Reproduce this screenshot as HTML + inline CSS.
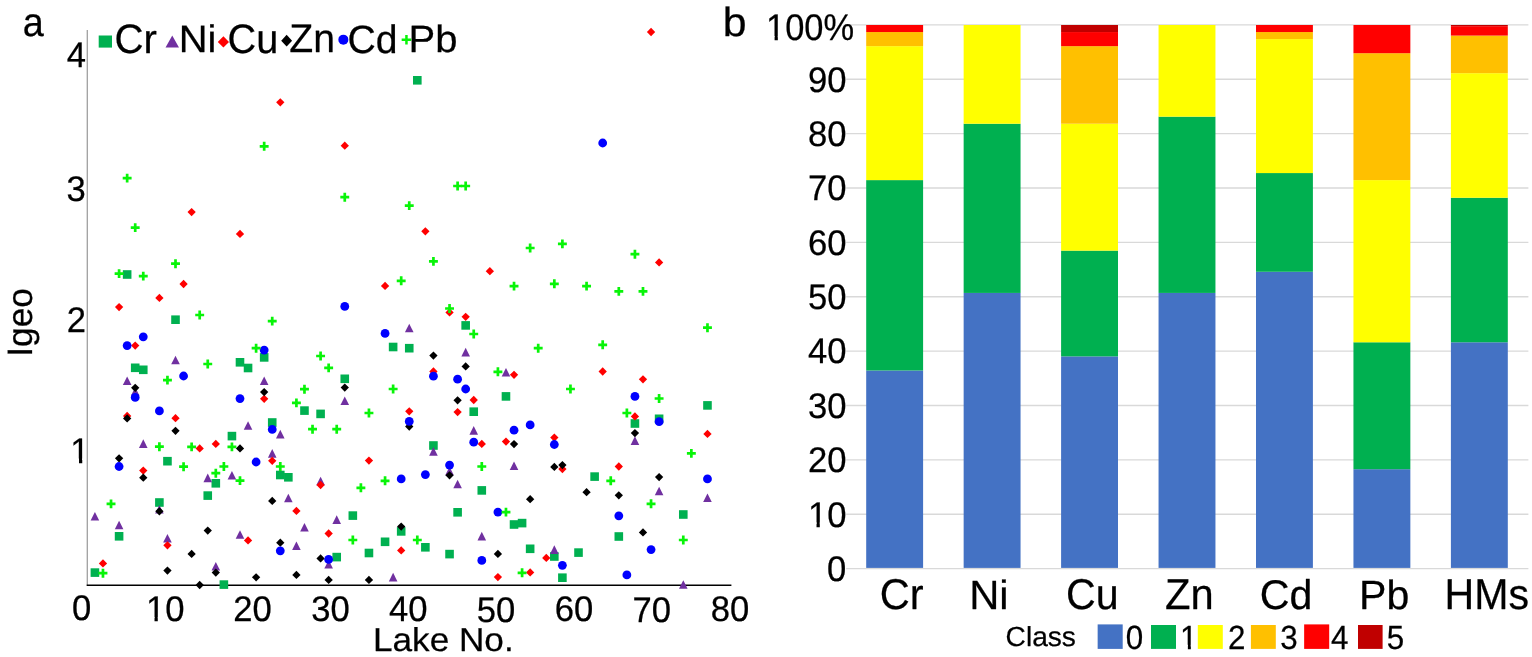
<!DOCTYPE html>
<html lang="en"><head><meta charset="utf-8"><title>Igeo of heavy metals in lakes</title>
<style>html,body{margin:0;padding:0;background:#fff}body{width:1532px;height:657px;overflow:hidden}svg{display:block}text{font-family:"Liberation Sans",Arial,Helvetica,sans-serif;fill:#000;stroke-linejoin:round;text-rendering:geometricPrecision}</style>
</head><body>
<svg width="1532" height="657" viewBox="0 0 1532 657">
<rect width="1532" height="657" fill="#fff"/>
<defs><clipPath id="one0"><path clip-rule="evenodd" d="M-50 -200H900V100H-50ZM-20 -4.27H8.86V40H-20ZM12.22 -4.27H19.92V40H12.22Z"/></clipPath><clipPath id="one1"><path clip-rule="evenodd" d="M-50 -200H900V100H-50ZM-20 -4.44H9.23V40H-20ZM12.72 -4.44H20.74V40H12.72Z"/></clipPath><clipPath id="one2"><path clip-rule="evenodd" d="M-50 -200H900V100H-50ZM-20 -4.03H8.36V40H-20ZM11.55 -4.03H18.82V40H11.55Z"/></clipPath></defs>
<g id="panel-a">
<text transform="translate(22.67 36.32) scale(0.9332 1)" font-size="40.46" stroke="#000" stroke-width="0.25">a</text>
<line x1="87.3" y1="30" x2="87.3" y2="585.8" stroke="#a0a0a0" stroke-width="1.3"/>
<line x1="86.7" y1="585.15" x2="731.4" y2="585.15" stroke="#000" stroke-width="1.45"/>
<text transform="translate(66.67 66.68) scale(0.9732 1)" font-size="35.57" stroke="#000" stroke-width="0.25">4</text>
<text transform="translate(66.39 200.73) scale(0.9732 1)" font-size="35.57" stroke="#000" stroke-width="0.25">3</text>
<text transform="translate(66.75 332.4) scale(0.9732 1)" font-size="35.57" stroke="#000" stroke-width="0.25">2</text>
<text transform="translate(70.36 462.73) scale(0.9732 1)" font-size="35.57" stroke="#000" stroke-width="0.25" clip-path="url(#one0)">1</text>
<text transform="translate(72.03 619.78) scale(0.9732 1)" font-size="35.57" stroke="#000" stroke-width="0.25">0</text>
<text transform="translate(145.89 621.33) scale(0.9732 1)" font-size="35.57" stroke="#000" stroke-width="0.25" clip-path="url(#one0)">10</text>
<text transform="translate(233.37 621.43) scale(0.9732 1)" font-size="35.57" stroke="#000" stroke-width="0.25">20</text>
<text transform="translate(311.34 621.43) scale(0.9732 1)" font-size="35.57" stroke="#000" stroke-width="0.25">30</text>
<text transform="translate(389 621.43) scale(0.9732 1)" font-size="35.57" stroke="#000" stroke-width="0.25">40</text>
<text transform="translate(476.7 621.58) scale(0.9732 1)" font-size="35.57" stroke="#000" stroke-width="0.25">50</text>
<text transform="translate(554.77 621.43) scale(0.9732 1)" font-size="35.57" stroke="#000" stroke-width="0.25">60</text>
<text transform="translate(632.53 621.53) scale(0.9732 1)" font-size="35.57" stroke="#000" stroke-width="0.25">70</text>
<text transform="translate(710.75 621.43) scale(0.9732 1)" font-size="35.57" stroke="#000" stroke-width="0.25">80</text>
<text transform="translate(31.81 356.68) rotate(-90)" font-size="35.25" stroke="#000" stroke-width="0.25">Igeo</text>
<text transform="translate(372.97 650.69) scale(1.0611 1)" font-size="33.13" stroke="#000" stroke-width="0.25">Lake No.</text>
<rect x="98.7" y="35.5" width="13.3" height="12.1" fill="#00B050"/>
<text transform="translate(114.56 52.51) scale(0.9803 1)" font-size="41.06" stroke="#000" stroke-width="0.25">Cr</text>
<path d="M172.25 35.5L179 47.5H165.5Z" fill="#7030A0"/>
<text transform="translate(178.78 52.32) scale(1.0434 1)" font-size="38.28" stroke="#000" stroke-width="0.25">Ni</text>
<path d="M223.4 36.3L229 41.9L223.4 47.5L217.8 41.9Z" fill="#FF0000"/>
<text transform="translate(227.49 52.51) scale(0.9668 1)" font-size="41.06" stroke="#000" stroke-width="0.25">Cu</text>
<path d="M286.65 34.8L292.1 40.7L286.65 46.6L281.2 40.7Z" fill="#000000"/>
<text transform="translate(289.3 52.32) scale(0.9784 1)" font-size="40.07" stroke="#000" stroke-width="0.25">Zn</text>
<circle cx="343.35" cy="39.65" r="5" fill="#0000FF"/>
<text transform="translate(347.52 52.53) scale(0.9914 1)" font-size="39.52" stroke="#000" stroke-width="0.25">Cd</text>
<path d="M401.65 39.8H411.25M406.45 35V44.6" stroke="#08F408" stroke-width="2.5" fill="none"/>
<text transform="translate(408.57 52.34) scale(1.0531 1)" font-size="38.03" stroke="#000" stroke-width="0.25">Pb</text>
<g id="s-cr"><rect x="90.61" y="568.3" width="8.6" height="8.6" fill="#00B050"/><rect x="114.79" y="532" width="8.6" height="8.6" fill="#00B050"/><rect x="122.85" y="270.2" width="8.6" height="8.6" fill="#00B050"/><rect x="130.91" y="363.5" width="8.6" height="8.6" fill="#00B050"/><rect x="138.97" y="365.5" width="8.6" height="8.6" fill="#00B050"/><rect x="155.09" y="498.2" width="8.6" height="8.6" fill="#00B050"/><rect x="163.15" y="456.9" width="8.6" height="8.6" fill="#00B050"/><rect x="171.21" y="315.4" width="8.6" height="8.6" fill="#00B050"/><rect x="203.45" y="491.3" width="8.6" height="8.6" fill="#00B050"/><rect x="211.51" y="479" width="8.6" height="8.6" fill="#00B050"/><rect x="219.57" y="580.3" width="8.6" height="8.6" fill="#00B050"/><rect x="227.63" y="431.8" width="8.6" height="8.6" fill="#00B050"/><rect x="235.69" y="358" width="8.6" height="8.6" fill="#00B050"/><rect x="243.75" y="363.7" width="8.6" height="8.6" fill="#00B050"/><rect x="259.87" y="353.1" width="8.6" height="8.6" fill="#00B050"/><rect x="267.93" y="418.2" width="8.6" height="8.6" fill="#00B050"/><rect x="275.99" y="470.7" width="8.6" height="8.6" fill="#00B050"/><rect x="284.05" y="473" width="8.6" height="8.6" fill="#00B050"/><rect x="300.17" y="406.3" width="8.6" height="8.6" fill="#00B050"/><rect x="316.29" y="409.6" width="8.6" height="8.6" fill="#00B050"/><rect x="332.41" y="552.8" width="8.6" height="8.6" fill="#00B050"/><rect x="340.47" y="374.5" width="8.6" height="8.6" fill="#00B050"/><rect x="348.53" y="511.3" width="8.6" height="8.6" fill="#00B050"/><rect x="364.65" y="548.7" width="8.6" height="8.6" fill="#00B050"/><rect x="380.77" y="537.5" width="8.6" height="8.6" fill="#00B050"/><rect x="388.83" y="342.7" width="8.6" height="8.6" fill="#00B050"/><rect x="396.89" y="527.1" width="8.6" height="8.6" fill="#00B050"/><rect x="404.95" y="343.9" width="8.6" height="8.6" fill="#00B050"/><rect x="413.01" y="76" width="8.6" height="8.6" fill="#00B050"/><rect x="421.07" y="543" width="8.6" height="8.6" fill="#00B050"/><rect x="429.13" y="441.2" width="8.6" height="8.6" fill="#00B050"/><rect x="445.25" y="549.8" width="8.6" height="8.6" fill="#00B050"/><rect x="453.31" y="508" width="8.6" height="8.6" fill="#00B050"/><rect x="461.37" y="321.1" width="8.6" height="8.6" fill="#00B050"/><rect x="469.43" y="407.4" width="8.6" height="8.6" fill="#00B050"/><rect x="477.49" y="486.1" width="8.6" height="8.6" fill="#00B050"/><rect x="501.67" y="392.1" width="8.6" height="8.6" fill="#00B050"/><rect x="509.73" y="520.2" width="8.6" height="8.6" fill="#00B050"/><rect x="517.79" y="518.8" width="8.6" height="8.6" fill="#00B050"/><rect x="525.85" y="544.5" width="8.6" height="8.6" fill="#00B050"/><rect x="550.03" y="552.2" width="8.6" height="8.6" fill="#00B050"/><rect x="558.09" y="573.4" width="8.6" height="8.6" fill="#00B050"/><rect x="574.21" y="548.3" width="8.6" height="8.6" fill="#00B050"/><rect x="590.33" y="472.3" width="8.6" height="8.6" fill="#00B050"/><rect x="614.51" y="532.2" width="8.6" height="8.6" fill="#00B050"/><rect x="630.63" y="419.2" width="8.6" height="8.6" fill="#00B050"/><rect x="654.81" y="414.5" width="8.6" height="8.6" fill="#00B050"/><rect x="678.99" y="510.2" width="8.6" height="8.6" fill="#00B050"/><rect x="703.17" y="401.1" width="8.6" height="8.6" fill="#00B050"/></g>
<g id="s-ni"><path d="M94.91 511.9L99.21 520.5H90.61Z" fill="#7030A0"/><path d="M119.09 520.7L123.39 529.3H114.79Z" fill="#7030A0"/><path d="M127.15 376.4L131.45 385H122.85Z" fill="#7030A0"/><path d="M135.21 387.2L139.51 395.8H130.91Z" fill="#7030A0"/><path d="M143.27 439.3L147.57 447.9H138.97Z" fill="#7030A0"/><path d="M159.39 505L163.69 513.6H155.09Z" fill="#7030A0"/><path d="M167.45 533.9L171.75 542.5H163.15Z" fill="#7030A0"/><path d="M175.51 355.7L179.81 364.3H171.21Z" fill="#7030A0"/><path d="M207.75 473.6L212.05 482.2H203.45Z" fill="#7030A0"/><path d="M215.81 562L220.11 570.6H211.51Z" fill="#7030A0"/><path d="M231.93 471L236.23 479.6H227.63Z" fill="#7030A0"/><path d="M239.99 530.2L244.29 538.8H235.69Z" fill="#7030A0"/><path d="M248.05 421.2L252.35 429.8H243.75Z" fill="#7030A0"/><path d="M264.17 376.4L268.47 385H259.87Z" fill="#7030A0"/><path d="M272.23 449.1L276.53 457.7H267.93Z" fill="#7030A0"/><path d="M280.29 429.8L284.59 438.4H275.99Z" fill="#7030A0"/><path d="M288.35 493.7L292.65 502.3H284.05Z" fill="#7030A0"/><path d="M296.41 541.4L300.71 550H292.11Z" fill="#7030A0"/><path d="M304.47 522.9L308.77 531.5H300.17Z" fill="#7030A0"/><path d="M320.59 476.7L324.89 485.3H316.29Z" fill="#7030A0"/><path d="M328.65 560L332.95 568.6H324.35Z" fill="#7030A0"/><path d="M336.71 515.3L341.01 523.9H332.41Z" fill="#7030A0"/><path d="M344.77 396.4L349.07 405H340.47Z" fill="#7030A0"/><path d="M393.13 572.8L397.43 581.4H388.83Z" fill="#7030A0"/><path d="M409.25 323.7L413.55 332.3H404.95Z" fill="#7030A0"/><path d="M433.43 447.1L437.73 455.7H429.13Z" fill="#7030A0"/><path d="M449.55 466.7L453.85 475.3H445.25Z" fill="#7030A0"/><path d="M457.61 479.7L461.91 488.3H453.31Z" fill="#7030A0"/><path d="M465.67 347.8L469.97 356.4H461.37Z" fill="#7030A0"/><path d="M473.73 426.1L478.03 434.7H469.43Z" fill="#7030A0"/><path d="M481.79 531.8L486.09 540.4H477.49Z" fill="#7030A0"/><path d="M505.97 367.9L510.27 376.5H501.67Z" fill="#7030A0"/><path d="M514.03 461.4L518.33 470H509.73Z" fill="#7030A0"/><path d="M554.33 545.3L558.63 553.9H550.03Z" fill="#7030A0"/><path d="M634.93 436.3L639.23 444.9H630.63Z" fill="#7030A0"/><path d="M659.11 486.7L663.41 495.3H654.81Z" fill="#7030A0"/><path d="M683.29 580.2L687.59 588.8H678.99Z" fill="#7030A0"/><path d="M707.47 493.5L711.77 502.1H703.17Z" fill="#7030A0"/></g>
<g id="s-cu"><path d="M102.97 559.25L107.12 563.4L102.97 567.55L98.82 563.4Z" fill="#FF0000"/><path d="M119.09 302.95L123.24 307.1L119.09 311.25L114.94 307.1Z" fill="#FF0000"/><path d="M127.15 411.85L131.3 416L127.15 420.15L123 416Z" fill="#FF0000"/><path d="M135.21 341.45L139.36 345.6L135.21 349.75L131.06 345.6Z" fill="#FF0000"/><path d="M143.27 466.45L147.42 470.6L143.27 474.75L139.12 470.6Z" fill="#FF0000"/><path d="M159.39 293.75L163.54 297.9L159.39 302.05L155.24 297.9Z" fill="#FF0000"/><path d="M167.45 541.15L171.6 545.3L167.45 549.45L163.3 545.3Z" fill="#FF0000"/><path d="M175.51 414.05L179.66 418.2L175.51 422.35L171.36 418.2Z" fill="#FF0000"/><path d="M183.57 279.85L187.72 284L183.57 288.15L179.42 284Z" fill="#FF0000"/><path d="M191.63 207.95L195.78 212.1L191.63 216.25L187.48 212.1Z" fill="#FF0000"/><path d="M199.69 444.25L203.84 448.4L199.69 452.55L195.54 448.4Z" fill="#FF0000"/><path d="M215.81 439.75L219.96 443.9L215.81 448.05L211.66 443.9Z" fill="#FF0000"/><path d="M239.99 229.75L244.14 233.9L239.99 238.05L235.84 233.9Z" fill="#FF0000"/><path d="M248.05 536.25L252.2 540.4L248.05 544.55L243.9 540.4Z" fill="#FF0000"/><path d="M264.17 394.65L268.32 398.8L264.17 402.95L260.02 398.8Z" fill="#FF0000"/><path d="M272.23 456.65L276.38 460.8L272.23 464.95L268.08 460.8Z" fill="#FF0000"/><path d="M280.29 98.15L284.44 102.3L280.29 106.45L276.14 102.3Z" fill="#FF0000"/><path d="M296.41 506.75L300.56 510.9L296.41 515.05L292.26 510.9Z" fill="#FF0000"/><path d="M320.59 480.85L324.74 485L320.59 489.15L316.44 485Z" fill="#FF0000"/><path d="M328.65 529.35L332.8 533.5L328.65 537.65L324.5 533.5Z" fill="#FF0000"/><path d="M344.77 141.55L348.92 145.7L344.77 149.85L340.62 145.7Z" fill="#FF0000"/><path d="M368.95 456.45L373.1 460.6L368.95 464.75L364.8 460.6Z" fill="#FF0000"/><path d="M385.07 281.75L389.22 285.9L385.07 290.05L380.92 285.9Z" fill="#FF0000"/><path d="M401.19 546.25L405.34 550.4L401.19 554.55L397.04 550.4Z" fill="#FF0000"/><path d="M409.25 407.15L413.4 411.3L409.25 415.45L405.1 411.3Z" fill="#FF0000"/><path d="M425.37 227.15L429.52 231.3L425.37 235.45L421.22 231.3Z" fill="#FF0000"/><path d="M433.43 367.35L437.58 371.5L433.43 375.65L429.28 371.5Z" fill="#FF0000"/><path d="M449.55 308.25L453.7 312.4L449.55 316.55L445.4 312.4Z" fill="#FF0000"/><path d="M457.61 407.95L461.76 412.1L457.61 416.25L453.46 412.1Z" fill="#FF0000"/><path d="M465.67 312.65L469.82 316.8L465.67 320.95L461.52 316.8Z" fill="#FF0000"/><path d="M473.73 395.85L477.88 400L473.73 404.15L469.58 400Z" fill="#FF0000"/><path d="M481.79 439.75L485.94 443.9L481.79 448.05L477.64 443.9Z" fill="#FF0000"/><path d="M489.85 267.05L494 271.2L489.85 275.35L485.7 271.2Z" fill="#FF0000"/><path d="M497.91 572.95L502.06 577.1L497.91 581.25L493.76 577.1Z" fill="#FF0000"/><path d="M505.97 437.45L510.12 441.6L505.97 445.75L501.82 441.6Z" fill="#FF0000"/><path d="M514.03 370.65L518.18 374.8L514.03 378.95L509.88 374.8Z" fill="#FF0000"/><path d="M530.15 568.25L534.3 572.4L530.15 576.55L526 572.4Z" fill="#FF0000"/><path d="M546.27 553.75L550.42 557.9L546.27 562.05L542.12 557.9Z" fill="#FF0000"/><path d="M554.33 433.45L558.48 437.6L554.33 441.75L550.18 437.6Z" fill="#FF0000"/><path d="M562.39 464.95L566.54 469.1L562.39 473.25L558.24 469.1Z" fill="#FF0000"/><path d="M602.69 367.35L606.84 371.5L602.69 375.65L598.54 371.5Z" fill="#FF0000"/><path d="M618.81 462.35L622.96 466.5L618.81 470.65L614.66 466.5Z" fill="#FF0000"/><path d="M634.93 412.25L639.08 416.4L634.93 420.55L630.78 416.4Z" fill="#FF0000"/><path d="M642.99 375.15L647.14 379.3L642.99 383.45L638.84 379.3Z" fill="#FF0000"/><path d="M651.05 27.85L655.2 32L651.05 36.15L646.9 32Z" fill="#FF0000"/><path d="M659.11 258.25L663.26 262.4L659.11 266.55L654.96 262.4Z" fill="#FF0000"/><path d="M707.47 429.75L711.62 433.9L707.47 438.05L703.32 433.9Z" fill="#FF0000"/></g>
<g id="s-zn"><path d="M119.09 454.15L123.24 458.3L119.09 462.45L114.94 458.3Z" fill="#000000"/><path d="M127.15 414.25L131.3 418.4L127.15 422.55L123 418.4Z" fill="#000000"/><path d="M135.21 383.65L139.36 387.8L135.21 391.95L131.06 387.8Z" fill="#000000"/><path d="M143.27 473.55L147.42 477.7L143.27 481.85L139.12 477.7Z" fill="#000000"/><path d="M159.39 507.15L163.54 511.3L159.39 515.45L155.24 511.3Z" fill="#000000"/><path d="M167.45 566.45L171.6 570.6L167.45 574.75L163.3 570.6Z" fill="#000000"/><path d="M175.51 426.65L179.66 430.8L175.51 434.95L171.36 430.8Z" fill="#000000"/><path d="M191.63 549.75L195.78 553.9L191.63 558.05L187.48 553.9Z" fill="#000000"/><path d="M199.69 580.85L203.84 585L199.69 589.15L195.54 585Z" fill="#000000"/><path d="M207.75 526.45L211.9 530.6L207.75 534.75L203.6 530.6Z" fill="#000000"/><path d="M215.81 568.45L219.96 572.6L215.81 576.75L211.66 572.6Z" fill="#000000"/><path d="M239.99 444.25L244.14 448.4L239.99 452.55L235.84 448.4Z" fill="#000000"/><path d="M256.11 573.15L260.26 577.3L256.11 581.45L251.96 577.3Z" fill="#000000"/><path d="M264.17 387.95L268.32 392.1L264.17 396.25L260.02 392.1Z" fill="#000000"/><path d="M272.23 496.75L276.38 500.9L272.23 505.05L268.08 500.9Z" fill="#000000"/><path d="M280.29 538.55L284.44 542.7L280.29 546.85L276.14 542.7Z" fill="#000000"/><path d="M296.41 570.75L300.56 574.9L296.41 579.05L292.26 574.9Z" fill="#000000"/><path d="M320.59 554.25L324.74 558.4L320.59 562.55L316.44 558.4Z" fill="#000000"/><path d="M328.65 575.75L332.8 579.9L328.65 584.05L324.5 579.9Z" fill="#000000"/><path d="M344.77 383.45L348.92 387.6L344.77 391.75L340.62 387.6Z" fill="#000000"/><path d="M368.95 575.75L373.1 579.9L368.95 584.05L364.8 579.9Z" fill="#000000"/><path d="M401.19 522.45L405.34 526.6L401.19 530.75L397.04 526.6Z" fill="#000000"/><path d="M409.25 422.35L413.4 426.5L409.25 430.65L405.1 426.5Z" fill="#000000"/><path d="M433.43 351.45L437.58 355.6L433.43 359.75L429.28 355.6Z" fill="#000000"/><path d="M449.55 471.15L453.7 475.3L449.55 479.45L445.4 475.3Z" fill="#000000"/><path d="M457.61 396.15L461.76 400.3L457.61 404.45L453.46 400.3Z" fill="#000000"/><path d="M465.67 362.25L469.82 366.4L465.67 370.55L461.52 366.4Z" fill="#000000"/><path d="M497.91 549.75L502.06 553.9L497.91 558.05L493.76 553.9Z" fill="#000000"/><path d="M514.03 439.95L518.18 444.1L514.03 448.25L509.88 444.1Z" fill="#000000"/><path d="M530.15 495.05L534.3 499.2L530.15 503.35L526 499.2Z" fill="#000000"/><path d="M554.33 462.75L558.48 466.9L554.33 471.05L550.18 466.9Z" fill="#000000"/><path d="M562.39 460.95L566.54 465.1L562.39 469.25L558.24 465.1Z" fill="#000000"/><path d="M586.57 488.05L590.72 492.2L586.57 496.35L582.42 492.2Z" fill="#000000"/><path d="M618.81 491.15L622.96 495.3L618.81 499.45L614.66 495.3Z" fill="#000000"/><path d="M634.93 428.95L639.08 433.1L634.93 437.25L630.78 433.1Z" fill="#000000"/><path d="M642.99 528.25L647.14 532.4L642.99 536.55L638.84 532.4Z" fill="#000000"/><path d="M659.11 472.95L663.26 477.1L659.11 481.25L654.96 477.1Z" fill="#000000"/></g>
<g id="s-cd"><circle cx="119.09" cy="466.5" r="4.4" fill="#0000FF"/><circle cx="127.15" cy="345.6" r="4.4" fill="#0000FF"/><circle cx="135.21" cy="397.4" r="4.4" fill="#0000FF"/><circle cx="143.27" cy="336.8" r="4.4" fill="#0000FF"/><circle cx="159.39" cy="410.9" r="4.4" fill="#0000FF"/><circle cx="183.57" cy="376" r="4.4" fill="#0000FF"/><circle cx="239.99" cy="398.6" r="4.4" fill="#0000FF"/><circle cx="256.11" cy="462" r="4.4" fill="#0000FF"/><circle cx="264.17" cy="350.1" r="4.4" fill="#0000FF"/><circle cx="272.23" cy="429.4" r="4.4" fill="#0000FF"/><circle cx="280.29" cy="550.8" r="4.4" fill="#0000FF"/><circle cx="328.65" cy="559.4" r="4.4" fill="#0000FF"/><circle cx="344.77" cy="306.4" r="4.4" fill="#0000FF"/><circle cx="385.07" cy="333.4" r="4.4" fill="#0000FF"/><circle cx="401.19" cy="478.9" r="4.4" fill="#0000FF"/><circle cx="409.25" cy="421.4" r="4.4" fill="#0000FF"/><circle cx="425.37" cy="474.6" r="4.4" fill="#0000FF"/><circle cx="433.43" cy="376.2" r="4.4" fill="#0000FF"/><circle cx="449.55" cy="465.1" r="4.4" fill="#0000FF"/><circle cx="457.61" cy="379.2" r="4.4" fill="#0000FF"/><circle cx="465.67" cy="389" r="4.4" fill="#0000FF"/><circle cx="473.73" cy="442.2" r="4.4" fill="#0000FF"/><circle cx="481.79" cy="560.4" r="4.4" fill="#0000FF"/><circle cx="497.91" cy="512.1" r="4.4" fill="#0000FF"/><circle cx="514.03" cy="430.2" r="4.4" fill="#0000FF"/><circle cx="530.15" cy="424.9" r="4.4" fill="#0000FF"/><circle cx="554.33" cy="444.5" r="4.4" fill="#0000FF"/><circle cx="562.39" cy="565.3" r="4.4" fill="#0000FF"/><circle cx="602.69" cy="143" r="4.4" fill="#0000FF"/><circle cx="618.81" cy="515.8" r="4.4" fill="#0000FF"/><circle cx="626.87" cy="574.9" r="4.4" fill="#0000FF"/><circle cx="634.93" cy="396.4" r="4.4" fill="#0000FF"/><circle cx="651.05" cy="549.6" r="4.4" fill="#0000FF"/><circle cx="659.11" cy="421.7" r="4.4" fill="#0000FF"/><circle cx="707.47" cy="478.9" r="4.4" fill="#0000FF"/></g>
<g id="s-pb"><path d="M98.52 573.2H107.42M102.97 568.75V577.65" stroke="#08F408" stroke-width="2.7" fill="none"/><path d="M106.58 503.9H115.48M111.03 499.45V508.35" stroke="#08F408" stroke-width="2.7" fill="none"/><path d="M114.64 273.6H123.54M119.09 269.15V278.05" stroke="#08F408" stroke-width="2.7" fill="none"/><path d="M122.7 178.1H131.6M127.15 173.65V182.55" stroke="#08F408" stroke-width="2.7" fill="none"/><path d="M130.76 227.6H139.66M135.21 223.15V232.05" stroke="#08F408" stroke-width="2.7" fill="none"/><path d="M138.82 276.1H147.72M143.27 271.65V280.55" stroke="#08F408" stroke-width="2.7" fill="none"/><path d="M154.94 446.7H163.84M159.39 442.25V451.15" stroke="#08F408" stroke-width="2.7" fill="none"/><path d="M163 380.1H171.9M167.45 375.65V384.55" stroke="#08F408" stroke-width="2.7" fill="none"/><path d="M171.06 263.7H179.96M175.51 259.25V268.15" stroke="#08F408" stroke-width="2.7" fill="none"/><path d="M179.12 466.7H188.02M183.57 462.25V471.15" stroke="#08F408" stroke-width="2.7" fill="none"/><path d="M187.18 446.9H196.08M191.63 442.45V451.35" stroke="#08F408" stroke-width="2.7" fill="none"/><path d="M195.24 315H204.14M199.69 310.55V319.45" stroke="#08F408" stroke-width="2.7" fill="none"/><path d="M203.3 364H212.2M207.75 359.55V368.45" stroke="#08F408" stroke-width="2.7" fill="none"/><path d="M211.36 473.2H220.26M215.81 468.75V477.65" stroke="#08F408" stroke-width="2.7" fill="none"/><path d="M219.42 466.5H228.32M223.87 462.05V470.95" stroke="#08F408" stroke-width="2.7" fill="none"/><path d="M227.48 446.9H236.38M231.93 442.45V451.35" stroke="#08F408" stroke-width="2.7" fill="none"/><path d="M235.54 480.6H244.44M239.99 476.15V485.05" stroke="#08F408" stroke-width="2.7" fill="none"/><path d="M251.66 348.2H260.56M256.11 343.75V352.65" stroke="#08F408" stroke-width="2.7" fill="none"/><path d="M259.72 146.3H268.62M264.17 141.85V150.75" stroke="#08F408" stroke-width="2.7" fill="none"/><path d="M267.78 321.1H276.68M272.23 316.65V325.55" stroke="#08F408" stroke-width="2.7" fill="none"/><path d="M275.84 466.5H284.74M280.29 462.05V470.95" stroke="#08F408" stroke-width="2.7" fill="none"/><path d="M291.96 402.9H300.86M296.41 398.45V407.35" stroke="#08F408" stroke-width="2.7" fill="none"/><path d="M300.02 389.2H308.92M304.47 384.75V393.65" stroke="#08F408" stroke-width="2.7" fill="none"/><path d="M308.08 429.2H316.98M312.53 424.75V433.65" stroke="#08F408" stroke-width="2.7" fill="none"/><path d="M316.14 356H325.04M320.59 351.55V360.45" stroke="#08F408" stroke-width="2.7" fill="none"/><path d="M324.2 367.9H333.1M328.65 363.45V372.35" stroke="#08F408" stroke-width="2.7" fill="none"/><path d="M332.26 429.2H341.16M336.71 424.75V433.65" stroke="#08F408" stroke-width="2.7" fill="none"/><path d="M340.32 197.2H349.22M344.77 192.75V201.65" stroke="#08F408" stroke-width="2.7" fill="none"/><path d="M348.38 540H357.28M352.83 535.55V544.45" stroke="#08F408" stroke-width="2.7" fill="none"/><path d="M356.44 487.8H365.34M360.89 483.35V492.25" stroke="#08F408" stroke-width="2.7" fill="none"/><path d="M364.5 413H373.4M368.95 408.55V417.45" stroke="#08F408" stroke-width="2.7" fill="none"/><path d="M380.62 480.8H389.52M385.07 476.35V485.25" stroke="#08F408" stroke-width="2.7" fill="none"/><path d="M388.68 389H397.58M393.13 384.55V393.45" stroke="#08F408" stroke-width="2.7" fill="none"/><path d="M396.74 280.8H405.64M401.19 276.35V285.25" stroke="#08F408" stroke-width="2.7" fill="none"/><path d="M404.8 205.6H413.7M409.25 201.15V210.05" stroke="#08F408" stroke-width="2.7" fill="none"/><path d="M412.86 540H421.76M417.31 535.55V544.45" stroke="#08F408" stroke-width="2.7" fill="none"/><path d="M428.98 261.4H437.88M433.43 256.95V265.85" stroke="#08F408" stroke-width="2.7" fill="none"/><path d="M445.1 308.5H454M449.55 304.05V312.95" stroke="#08F408" stroke-width="2.7" fill="none"/><path d="M453.16 186H462.06M457.61 181.55V190.45" stroke="#08F408" stroke-width="2.7" fill="none"/><path d="M461.22 186H470.12M465.67 181.55V190.45" stroke="#08F408" stroke-width="2.7" fill="none"/><path d="M469.28 334H478.18M473.73 329.55V338.45" stroke="#08F408" stroke-width="2.7" fill="none"/><path d="M477.34 466.5H486.24M481.79 462.05V470.95" stroke="#08F408" stroke-width="2.7" fill="none"/><path d="M493.46 371.8H502.36M497.91 367.35V376.25" stroke="#08F408" stroke-width="2.7" fill="none"/><path d="M501.52 512.1H510.42M505.97 507.65V516.55" stroke="#08F408" stroke-width="2.7" fill="none"/><path d="M509.58 286.1H518.48M514.03 281.65V290.55" stroke="#08F408" stroke-width="2.7" fill="none"/><path d="M517.64 572.8H526.54M522.09 568.35V577.25" stroke="#08F408" stroke-width="2.7" fill="none"/><path d="M525.7 248H534.6M530.15 243.55V252.45" stroke="#08F408" stroke-width="2.7" fill="none"/><path d="M533.76 348.2H542.66M538.21 343.75V352.65" stroke="#08F408" stroke-width="2.7" fill="none"/><path d="M549.88 283.8H558.78M554.33 279.35V288.25" stroke="#08F408" stroke-width="2.7" fill="none"/><path d="M557.94 243.9H566.84M562.39 239.45V248.35" stroke="#08F408" stroke-width="2.7" fill="none"/><path d="M566 389H574.9M570.45 384.55V393.45" stroke="#08F408" stroke-width="2.7" fill="none"/><path d="M582.12 286.1H591.02M586.57 281.65V290.55" stroke="#08F408" stroke-width="2.7" fill="none"/><path d="M598.24 344.8H607.14M602.69 340.35V349.25" stroke="#08F408" stroke-width="2.7" fill="none"/><path d="M606.3 480.8H615.2M610.75 476.35V485.25" stroke="#08F408" stroke-width="2.7" fill="none"/><path d="M614.36 291.4H623.26M618.81 286.95V295.85" stroke="#08F408" stroke-width="2.7" fill="none"/><path d="M622.42 413H631.32M626.87 408.55V417.45" stroke="#08F408" stroke-width="2.7" fill="none"/><path d="M630.48 254.2H639.38M634.93 249.75V258.65" stroke="#08F408" stroke-width="2.7" fill="none"/><path d="M638.54 291.4H647.44M642.99 286.95V295.85" stroke="#08F408" stroke-width="2.7" fill="none"/><path d="M646.6 503.8H655.5M651.05 499.35V508.25" stroke="#08F408" stroke-width="2.7" fill="none"/><path d="M654.66 398.5H663.56M659.11 394.05V402.95" stroke="#08F408" stroke-width="2.7" fill="none"/><path d="M678.84 540H687.74M683.29 535.55V544.45" stroke="#08F408" stroke-width="2.7" fill="none"/><path d="M686.9 453.4H695.8M691.35 448.95V457.85" stroke="#08F408" stroke-width="2.7" fill="none"/><path d="M703.02 327.7H711.92M707.47 323.25V332.15" stroke="#08F408" stroke-width="2.7" fill="none"/></g>
</g>
<g id="panel-b">
<text transform="translate(722.79 36.22) scale(1.0533 1)" font-size="40.61" stroke="#000" stroke-width="0.25">b</text>
<line x1="846.2" y1="568.6" x2="1528.4" y2="568.6" stroke="#d9d9d9" stroke-width="1.3"/>
<line x1="846.2" y1="514.23" x2="1528.4" y2="514.23" stroke="#d9d9d9" stroke-width="1.3"/>
<line x1="846.2" y1="459.86" x2="1528.4" y2="459.86" stroke="#d9d9d9" stroke-width="1.3"/>
<line x1="846.2" y1="405.49" x2="1528.4" y2="405.49" stroke="#d9d9d9" stroke-width="1.3"/>
<line x1="846.2" y1="351.12" x2="1528.4" y2="351.12" stroke="#d9d9d9" stroke-width="1.3"/>
<line x1="846.2" y1="296.75" x2="1528.4" y2="296.75" stroke="#d9d9d9" stroke-width="1.3"/>
<line x1="846.2" y1="242.38" x2="1528.4" y2="242.38" stroke="#d9d9d9" stroke-width="1.3"/>
<line x1="846.2" y1="188.01" x2="1528.4" y2="188.01" stroke="#d9d9d9" stroke-width="1.3"/>
<line x1="846.2" y1="133.64" x2="1528.4" y2="133.64" stroke="#d9d9d9" stroke-width="1.3"/>
<line x1="846.2" y1="79.27" x2="1528.4" y2="79.27" stroke="#d9d9d9" stroke-width="1.3"/>
<line x1="846.2" y1="24.9" x2="1528.4" y2="24.9" stroke="#d9d9d9" stroke-width="1.3"/>
<text transform="translate(766 40.4) scale(0.9305 1)" font-size="37.03" stroke="#000" stroke-width="0.25" clip-path="url(#one1)">100%</text>
<text transform="translate(827.11 580.93) scale(0.9732 1)" font-size="35.57" stroke="#000" stroke-width="0.25">0</text>
<text transform="translate(807.9 526.56) scale(0.9732 1)" font-size="35.57" stroke="#000" stroke-width="0.25" clip-path="url(#one0)">10</text>
<text transform="translate(807.9 472.19) scale(0.9732 1)" font-size="35.57" stroke="#000" stroke-width="0.25">20</text>
<text transform="translate(807.9 417.82) scale(0.9732 1)" font-size="35.57" stroke="#000" stroke-width="0.25">30</text>
<text transform="translate(807.9 363.45) scale(0.9732 1)" font-size="35.57" stroke="#000" stroke-width="0.25">40</text>
<text transform="translate(807.9 309.08) scale(0.9732 1)" font-size="35.57" stroke="#000" stroke-width="0.25">50</text>
<text transform="translate(807.9 254.71) scale(0.9732 1)" font-size="35.57" stroke="#000" stroke-width="0.25">60</text>
<text transform="translate(807.9 200.34) scale(0.9732 1)" font-size="35.57" stroke="#000" stroke-width="0.25">70</text>
<text transform="translate(807.9 145.97) scale(0.9732 1)" font-size="35.57" stroke="#000" stroke-width="0.25">80</text>
<text transform="translate(807.9 91.6) scale(0.9732 1)" font-size="35.57" stroke="#000" stroke-width="0.25">90</text>
<rect x="866.2" y="370.48" width="56.9" height="197.42" fill="#4472C4"/>
<rect x="866.2" y="180.11" width="56.9" height="190.37" fill="#00B050"/>
<rect x="866.2" y="46.15" width="56.9" height="133.96" fill="#FFFF00"/>
<rect x="866.2" y="32.05" width="56.9" height="14.1" fill="#FFC000"/>
<rect x="866.2" y="25" width="56.9" height="7.05" fill="#FF0000"/>
<rect x="963.65" y="292.92" width="56.9" height="274.98" fill="#4472C4"/>
<rect x="963.65" y="123.71" width="56.9" height="169.22" fill="#00B050"/>
<rect x="963.65" y="25" width="56.9" height="98.71" fill="#FFFF00"/>
<rect x="1061.1" y="356.38" width="56.9" height="211.52" fill="#4472C4"/>
<rect x="1061.1" y="250.62" width="56.9" height="105.76" fill="#00B050"/>
<rect x="1061.1" y="123.71" width="56.9" height="126.91" fill="#FFFF00"/>
<rect x="1061.1" y="46.15" width="56.9" height="77.56" fill="#FFC000"/>
<rect x="1061.1" y="32.05" width="56.9" height="14.1" fill="#FF0000"/>
<rect x="1061.1" y="25" width="56.9" height="7.05" fill="#C00000"/>
<rect x="1158.55" y="292.92" width="56.9" height="274.98" fill="#4472C4"/>
<rect x="1158.55" y="116.66" width="56.9" height="176.27" fill="#00B050"/>
<rect x="1158.55" y="25" width="56.9" height="91.66" fill="#FFFF00"/>
<rect x="1256" y="271.77" width="56.9" height="296.13" fill="#4472C4"/>
<rect x="1256" y="173.06" width="56.9" height="98.71" fill="#00B050"/>
<rect x="1256" y="39.1" width="56.9" height="133.96" fill="#FFFF00"/>
<rect x="1256" y="32.05" width="56.9" height="7.05" fill="#FFC000"/>
<rect x="1256" y="25" width="56.9" height="7.05" fill="#FF0000"/>
<rect x="1353.45" y="469.19" width="56.9" height="98.71" fill="#4472C4"/>
<rect x="1353.45" y="342.28" width="56.9" height="126.91" fill="#00B050"/>
<rect x="1353.45" y="180.11" width="56.9" height="162.16" fill="#FFFF00"/>
<rect x="1353.45" y="53.2" width="56.9" height="126.91" fill="#FFC000"/>
<rect x="1353.45" y="25" width="56.9" height="28.2" fill="#FF0000"/>
<rect x="1450.9" y="342.28" width="56.9" height="225.62" fill="#4472C4"/>
<rect x="1450.9" y="197.74" width="56.9" height="144.54" fill="#00B050"/>
<rect x="1450.9" y="73.18" width="56.9" height="124.56" fill="#FFFF00"/>
<rect x="1450.9" y="35.58" width="56.9" height="37.6" fill="#FFC000"/>
<rect x="1450.9" y="26.18" width="56.9" height="9.4" fill="#FF0000"/>
<rect x="1450.9" y="25" width="56.9" height="1.18" fill="#C00000"/>
<text transform="translate(879.7 609.39) scale(0.9659 1)" font-size="43.04" stroke="#000" stroke-width="0.25">Cr</text>
<text transform="translate(969.23 609.42) scale(1.0196 1)" font-size="40.9" stroke="#000" stroke-width="0.25">Ni</text>
<text transform="translate(1066.02 609.39) scale(0.9564 1)" font-size="43.04" stroke="#000" stroke-width="0.25">Cu</text>
<text transform="translate(1165.12 609.42) scale(0.9676 1)" font-size="43.13" stroke="#000" stroke-width="0.25">Zn</text>
<text transform="translate(1259.72 609.41) scale(0.9935 1)" font-size="41.43" stroke="#000" stroke-width="0.25">Cd</text>
<text transform="translate(1359.09 609.42) scale(1.004 1)" font-size="40.88" stroke="#000" stroke-width="0.25">Pb</text>
<text transform="translate(1444.48 609.39) scale(0.9542 1)" font-size="43.08" stroke="#000" stroke-width="0.25">HMs</text>
<text transform="translate(1005.57 646.45) scale(1.0213 1)" font-size="27.55" stroke="#000" stroke-width="0.25">Class</text>
<rect x="1097.65" y="624.4" width="25.05" height="24.5" fill="#4472C4"/>
<rect x="1151" y="625" width="25" height="23.9" fill="#00B050"/>
<rect x="1197.8" y="625" width="25" height="23.9" fill="#FFFF00"/>
<rect x="1250.9" y="625" width="24.9" height="23.9" fill="#FFC000"/>
<rect x="1304.15" y="624.4" width="25.05" height="24.5" fill="#FF0000"/>
<rect x="1358" y="625" width="24.6" height="23.9" fill="#C00000"/>
<text transform="translate(1125.86 648.69) scale(0.9323 1)" font-size="33.61" stroke="#000" stroke-width="0.25">0</text>
<text transform="translate(1180.07 648.77) scale(0.9323 1)" font-size="33.61" stroke="#000" stroke-width="0.25" clip-path="url(#one2)">1</text>
<text transform="translate(1228.08 648.77) scale(0.9323 1)" font-size="33.61" stroke="#000" stroke-width="0.25">2</text>
<text transform="translate(1280.21 648.69) scale(0.9323 1)" font-size="33.61" stroke="#000" stroke-width="0.25">3</text>
<text transform="translate(1331.08 648.77) scale(0.9323 1)" font-size="33.61" stroke="#000" stroke-width="0.25">4</text>
<text transform="translate(1386.65 648.69) scale(0.9323 1)" font-size="33.61" stroke="#000" stroke-width="0.25">5</text>
</g>
</svg>
</body></html>
